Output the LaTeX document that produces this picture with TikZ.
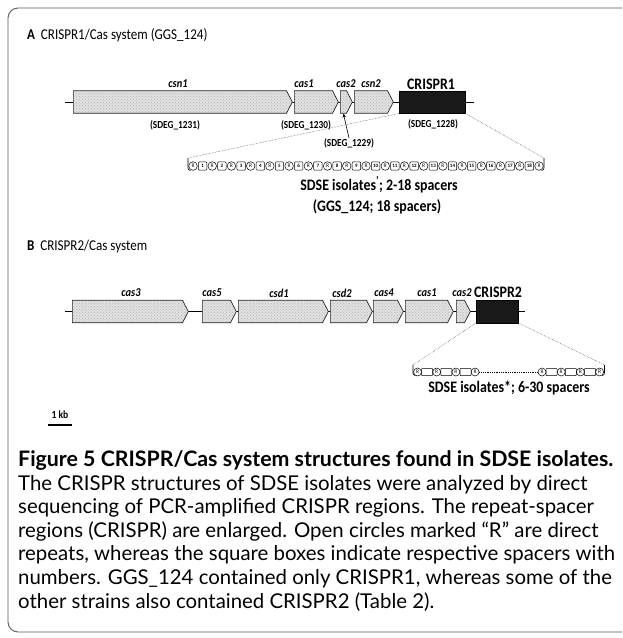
\documentclass[tikz,border=0pt]{standalone}
\usepackage{graphicx}
\usepackage{fontspec}
\setmainfont{Carlito}
\newfontfamily\capfont{Lato}
\usetikzlibrary{shapes.symbols,arrows.meta,patterns}
\newcommand\capbold{Figure 5 CRISPR/Cas system structures found in SDSE isolates.}
\newcommand\capfour{repeats, whereas the square boxes indicate respective spacers with}
\newcommand\sx[1]{\scalebox{0.87}[1]{#1}}
\newlength\bwlen
\newlength\rwlen
\begin{document}
\settowidth{\bwlen}{\capfont\bfseries\fontsize{10}{12}\selectfont\capbold}%
\settowidth{\rwlen}{\capfont\fontsize{10}{12}\selectfont\capfour}%
\begin{tikzpicture}[x=1pt,y=-1pt,
  gene/.style={signal, signal to=east, draw=black!85, line width=0.7pt,
    preaction={fill=black!12}, pattern=crosshatch dots, pattern color=black!28,
    minimum height=22.5pt, inner sep=0pt, anchor=west, signal pointer angle=125},
  crbox/.style={draw=black, fill=black!90, minimum height=22.5pt, inner sep=0pt, anchor=west},
  glab/.style={font=\bfseries\itshape\fontsize{12}{14}\selectfont, inner sep=0pt},
  clab/.style={font=\bfseries\fontsize{16}{18}\selectfont, inner sep=0pt},
  sdeg/.style={font=\bfseries\fontsize{10.7}{12}\selectfont, inner sep=0pt},
  rcirc/.style={draw, circle, line width=0.5pt, minimum size=8.6pt, inner sep=0pt, font=\fontsize{5.5}{6}\selectfont},
  sbox/.style={draw, rounded corners=1pt, line width=0.5pt, minimum width=8.4pt, minimum height=8.4pt, inner sep=0pt, font=\bfseries\fontsize{5}{6}\selectfont},
  ebox/.style={draw, rounded corners=0.5pt, line width=0.5pt, minimum width=11pt, minimum height=7pt, inner sep=0pt},
  zoomline/.style={densely dotted, line width=0.5pt, black!70},
  bb/.style={font=\bfseries\fontsize{16}{18}\selectfont, inner sep=0pt},
  title/.style={font=\fontsize{15}{17}\selectfont, anchor=base west, inner sep=0pt},
  captxt/.style={anchor=base west, inner sep=0pt}
]
\useasboundingbox (0,0) rectangle (622,638);
\clip (0,0) rectangle (622,638);
\fill[white] (0,0) rectangle (622,638);
% frame
\draw[black!65, line width=0.9pt, rounded corners=10pt] (650,632) -- (8,632) -- (8,8) -- (650,8);

% ---------------- Panel A ----------------
\node[title] (tA) at (27,39) {\sx{\textbf{A}\hspace{0.45em}CRISPR1/Cas system (GGS\_124)}};
\coordinate (aL) at (65,102);
\coordinate (aR) at (474,102);
\draw[line width=1pt] (aL) -- (aR);
\node[gene, minimum width=219pt] (csn1) at (73,102) {};
\node[gene, minimum width=44pt] (cas1a) at (294,102) {};
\node[gene, minimum width=12pt] (cas2a) at (340,102) {};
\node[gene, minimum width=39pt] (csn2) at (354,102) {};
\node[crbox, minimum width=66pt] (cr1) at (399,102) {};
\node[glab] (lcsn1) at (178,84) {\sx{csn1}};
\node[glab] (lcas1a) at (304,84) {\sx{cas1}};
\node[glab] (lcas2a) at (346,84) {\sx{cas2}};
\node[glab] (lcsn2) at (371,84) {\sx{csn2}};
\node[clab] (lcr1) at (431,84) {\sx{CRISPR1}};
\node[sdeg] (s1231) at (175,125) {\sx{(SDEG\_1231)}};
\node[sdeg] (s1230) at (306,125) {\sx{(SDEG\_1230)}};
\node[sdeg] (s1228) at (433,124) {\sx{(SDEG\_1228)}};
\node[sdeg] (s1229) at (349,143) {\sx{(SDEG\_1229)}};
\draw[line width=0.6pt, -{Stealth[length=4pt,width=3.5pt]}] (s1229.north) -- (cas2a.south);

% spacer row A
\coordinate (aTL) at (188,158);
\coordinate (aTR) at (544,158);
\draw[line width=0.6pt] (aTL) -- (188,168) to[out=-90,in=180] (190.5,170.5);
\draw[line width=0.6pt] (aTR) -- (544,168) to[out=-90,in=0] (541.5,170.5);
\foreach \k in {0,...,18}{
  \node[rcirc] (ra\k) at (193+19.222*\k,166) {R};
}
\foreach \k in {1,...,18}{
  \node[sbox] (sa\k) at (193+19.222*\k-9.611,166) {\k};
}
\draw[zoomline] (cr1.south west) -- (aTL);
\draw[zoomline] (cr1.south east) -- (aTR);
\node[bb] (isoA) at (379,185) {\sx{SDSE isolates\textsuperscript{'}; 2-18 spacers}};
\node[bb] (ggs) at (377,207) {\sx{(GGS\_124; 18 spacers)}};

% ---------------- Panel B ----------------
\node[title] (tB) at (27,250) {\sx{\textbf{B}\hspace{0.45em}CRISPR2/Cas system}};
\coordinate (bL) at (65,311.5);
\coordinate (bR) at (525,311.5);
\draw[line width=1pt] (bL) -- (bR);
\node[gene, minimum width=116pt] (cas3) at (72,311.5) {};
\node[gene, minimum width=34pt] (cas5) at (202,311.5) {};
\node[gene, minimum width=90pt] (csd1) at (238,311.5) {};
\node[gene, minimum width=42pt] (csd2) at (330,311.5) {};
\node[gene, minimum width=30pt] (cas4) at (373,311.5) {};
\node[gene, minimum width=48pt] (cas1b) at (405,311.5) {};
\node[gene, minimum width=14pt] (cas2b) at (456,311.5) {};
\node[crbox, minimum width=42pt] (cr2) at (476,311.5) {};
\node[glab] (lcas3) at (131,293) {\sx{cas3}};
\node[glab] (lcas5) at (212,293) {\sx{cas5}};
\node[glab] (lcsd1) at (279,293) {\sx{csd1}};
\node[glab] (lcsd2) at (342,293) {\sx{csd2}};
\node[glab] (lcas4) at (384,293) {\sx{cas4}};
\node[glab] (lcas1b) at (427,293) {\sx{cas1}};
\node[glab] (lcas2b) at (462,293) {\sx{cas2}};
\node[clab] (lcr2) at (498,292) {\sx{CRISPR2}};

% spacer row B
\coordinate (bTL) at (413,365);
\coordinate (bTR) at (604.5,365);
\draw[line width=0.6pt] (bTL) -- (413,373) to[out=-90,in=180] (415.5,375.5);
\draw[line width=0.6pt] (bTR) -- (604.5,373) to[out=-90,in=0] (602,375.5);
\foreach \k in {0,...,3}{
  \node[rcirc, minimum size=8pt] (rb\k) at (417.5+19.2*\k,372) {R};
  \node[rcirc, minimum size=8pt] (rc\k) at (542+19.2*\k,372) {R};
}
\foreach \k in {1,...,3}{
  \node[ebox] (eb\k) at (417.5+19.2*\k-9.6,372) {};
  \node[ebox] (ec\k) at (542+19.2*\k-9.6,372) {};
}
\draw[densely dotted, line width=0.8pt] (rb3.east) -- (rc0.west);
\draw[zoomline] (cr2.south west) -- (bTL);
\draw[zoomline] (cr2.south east) -- (bTR);
\node[bb] (isoB) at (509,388) {\sx{SDSE isolates*; 6-30 spacers}};

% scale bar
\node[font=\bfseries\fontsize{11}{12}\selectfont, inner sep=0pt] (kb) at (60,415) {\sx{1 kb}};
\coordinate (kbL) at (48,425);
\coordinate (kbR) at (72,425);
\draw[line width=1.2pt] (kbL) -- (kbR);

% ---------------- Caption ----------------
\pgfmathsetmacro{\bsz}{10*595/\the\bwlen}
\pgfmathsetmacro{\rsz}{10*597/\the\rwlen}
\tikzset{capreg/.style={font=\capfont\fontsize{\rsz}{20}\selectfont}}
\node[captxt, font=\capfont\bfseries\fontsize{\bsz}{20}\selectfont] (c0) at (18,466.5) {\capbold};
\node[captxt, capreg] (c1) at (18,490) {The CRISPR structures of SDSE isolates were analyzed by direct};
\node[captxt, capreg] (c2) at (18,513.6) {sequencing of PCR-amplified CRISPR regions. The repeat-spacer};
\node[captxt, capreg] (c3) at (18,537.2) {regions (CRISPR) are enlarged. Open circles marked “R” are direct};
\node[captxt, capreg] (c4) at (18,560.8) {\capfour};
\node[captxt, capreg] (c5) at (18,584.4) {numbers. GGS\_124 contained only CRISPR1, whereas some of the};
\node[captxt, capreg] (c6) at (18,608) {other strains also contained CRISPR2 (Table 2).};
\end{tikzpicture}
\end{document}
